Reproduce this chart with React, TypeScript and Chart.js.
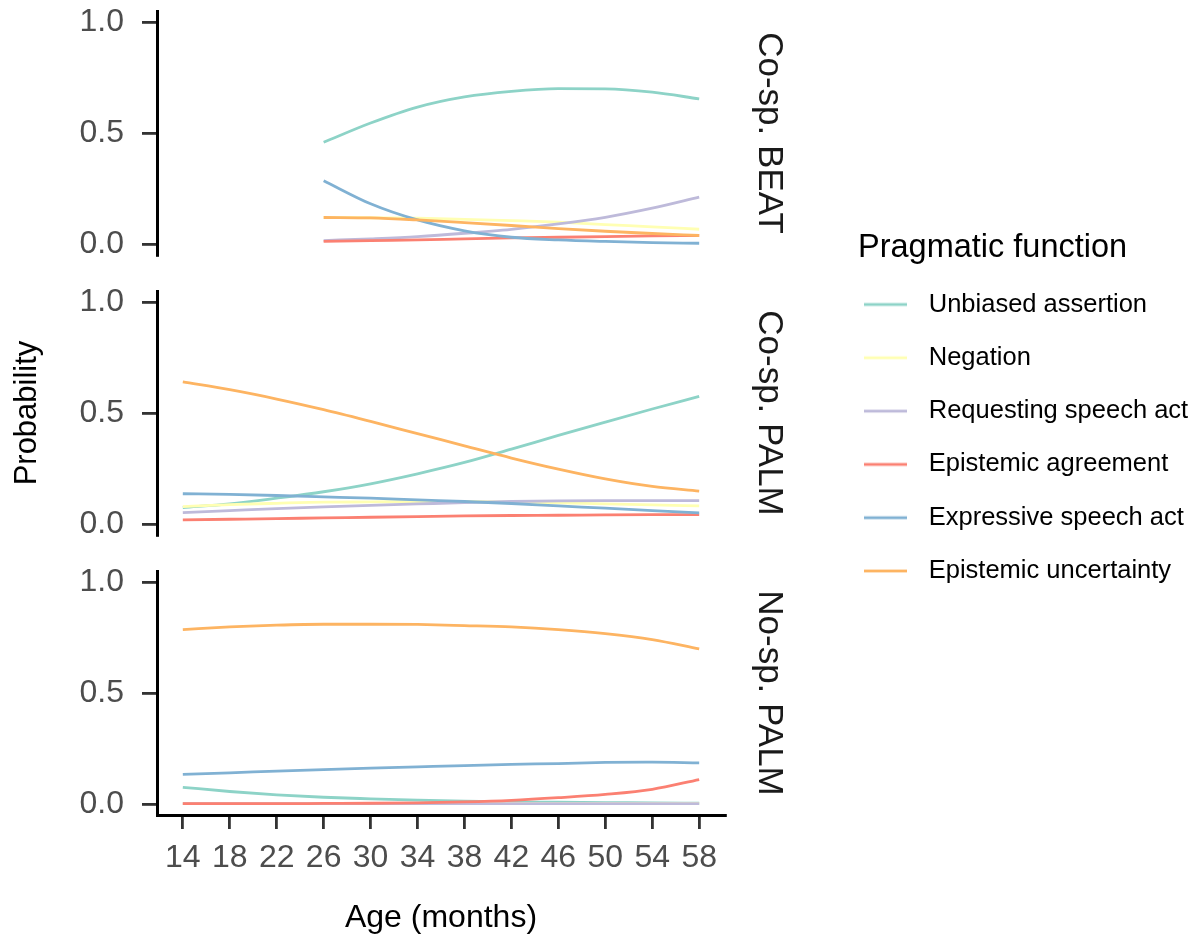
import { useEffect, useRef } from 'react';
import { Chart, registerables } from 'chart.js';

Chart.register(...registerables);

const FONT = '"Liberation Sans", Arial, Helvetica, sans-serif';

const AGE_TICKS = [14, 18, 22, 26, 30, 34, 38, 42, 46, 50, 54, 58];
const AGE = [14, 18, 22, 26, 30, 34, 38, 42, 46, 50, 54, 58];
const BEAT_AGE = [26, 30, 34, 38, 42, 46, 50, 54, 58];
const Y_TICKS = [0, 0.5, 1];

const SERIES = [
  'Unbiased assertion',
  'Negation',
  'Requesting speech act',
  'Epistemic agreement',
  'Expressive speech act',
  'Epistemic uncertainty',
];
const COLORS = ['#8DD3C7', '#FFFFB3', '#BEBADA', '#FB8072', '#80B1D3', '#FDB462'];
const PANELS = ['Co-sp. BEAT', 'Co-sp. PALM', 'No-sp. PALM'];

// Panel 1: Co-sp. BEAT (ages 26..58)
const BEAT_UNBIASED = [0.458, 0.545, 0.617, 0.663, 0.688, 0.7, 0.699, 0.684, 0.654];
const BEAT_NEGATION = [0.12, 0.118, 0.116, 0.111, 0.105, 0.098, 0.087, 0.077, 0.066];
const BEAT_REQUESTING = [0.015, 0.023, 0.033, 0.048, 0.066, 0.09, 0.12, 0.161, 0.211];
const BEAT_AGREEMENT = [0.011, 0.015, 0.018, 0.023, 0.027, 0.03, 0.033, 0.036, 0.038];
const BEAT_EXPRESSIVE = [0.285, 0.181, 0.108, 0.059, 0.03, 0.018, 0.011, 0.006, 0.003];
const BEAT_UNCERTAINTY = [0.119, 0.117, 0.108, 0.096, 0.083, 0.069, 0.057, 0.047, 0.038];

// Panel 2: Co-sp. PALM (ages 14..58)
const COPALM_UNBIASED = [0.074, 0.09, 0.116, 0.145, 0.181, 0.226, 0.277, 0.337, 0.399, 0.459, 0.518, 0.575];
const COPALM_NEGATION = [0.078, 0.087, 0.093, 0.098, 0.099, 0.101, 0.101, 0.098, 0.095, 0.09, 0.086, 0.081];
const COPALM_REQUESTING = [0.051, 0.06, 0.069, 0.077, 0.084, 0.09, 0.096, 0.101, 0.104, 0.105, 0.105, 0.105];
const COPALM_AGREEMENT = [0.018, 0.021, 0.024, 0.027, 0.03, 0.033, 0.036, 0.038, 0.039, 0.041, 0.042, 0.042];
const COPALM_EXPRESSIVE = [0.136, 0.133, 0.128, 0.122, 0.116, 0.108, 0.101, 0.092, 0.081, 0.071, 0.06, 0.05];
const COPALM_UNCERTAINTY = [0.64, 0.605, 0.563, 0.515, 0.462, 0.407, 0.352, 0.297, 0.247, 0.203, 0.169, 0.148];

// Panel 3: No-sp. PALM (ages 14..58)
const NOPALM_UNBIASED = [0.075, 0.056, 0.041, 0.03, 0.023, 0.017, 0.012, 0.009, 0.008, 0.006, 0.005, 0.003];
const NOPALM_NEGATION = [0.002, 0.002, 0.002, 0.002, 0.002, 0.002, 0.002, 0.002, 0.002, 0.002, 0.002, 0.002];
const NOPALM_REQUESTING = [0.001, 0.001, 0.001, 0.001, 0.001, 0.001, 0.001, 0.001, 0.001, 0.001, 0.001, 0.001];
const NOPALM_AGREEMENT = [0.001, 0.001, 0.001, 0.002, 0.003, 0.005, 0.009, 0.016, 0.028, 0.043, 0.066, 0.11];
const NOPALM_EXPRESSIVE = [0.133, 0.14, 0.148, 0.155, 0.161, 0.167, 0.173, 0.178, 0.182, 0.187, 0.188, 0.185];
const NOPALM_UNCERTAINTY = [0.786, 0.798, 0.806, 0.81, 0.81, 0.809, 0.804, 0.798, 0.786, 0.768, 0.741, 0.699];

const PANEL_DATA = [
  { ages: BEAT_AGE, series: [BEAT_UNBIASED, BEAT_NEGATION, BEAT_REQUESTING, BEAT_AGREEMENT, BEAT_EXPRESSIVE, BEAT_UNCERTAINTY] },
  { ages: AGE, series: [COPALM_UNBIASED, COPALM_NEGATION, COPALM_REQUESTING, COPALM_AGREEMENT, COPALM_EXPRESSIVE, COPALM_UNCERTAINTY] },
  { ages: AGE, series: [NOPALM_UNBIASED, NOPALM_NEGATION, NOPALM_REQUESTING, NOPALM_AGREEMENT, NOPALM_EXPRESSIVE, NOPALM_UNCERTAINTY] },
];

// layout constants (pixels)
const W = 1194;
const H = 940;
const LEFT_W = 157;
const RIGHT_W = 133;
const X_AXIS_H = 125;
const PANEL_W = 244;
const GAP_W = 36;
const LINE_W = 2.8;
const LEGEND_SPACE = 336;
const LEGEND_PAD = 6;
const LEGEND_FONT = 25.5;
const LEGEND_ROW = 53.3;
const LEGEND_BOX_W = 52;

function legendLine(color: string): HTMLCanvasElement {
  const c = document.createElement('canvas');
  c.width = LEGEND_BOX_W;
  c.height = 6;
  const ctx = c.getContext('2d')!;
  ctx.fillStyle = color;
  ctx.fillRect(0, 3 - LINE_W / 2, 43, LINE_W);
  return c;
}

export default function App() {
  const ref = useRef<HTMLCanvasElement | null>(null);

  useEffect(() => {
    document.body.style.margin = '0';
    const canvas = ref.current;
    if (!canvas) return;

    // legend width from its content, so that its left edge sits where wanted
    const m = canvas.getContext('2d')!;
    m.font = `${LEGEND_FONT}px ${FONT}`;
    const maxText = Math.max(...SERIES.map((s) => m.measureText(s).width));
    const contentW = LEGEND_PAD + LEGEND_BOX_W + LEGEND_FONT / 2 + maxText + 10;
    const legendW = Math.min(contentW, LEGEND_SPACE);
    const padRight = LEGEND_SPACE - legendW;

    const images = COLORS.map(legendLine);

    const datasets: any[] = [];
    PANEL_DATA.forEach((panel, p) => {
      panel.series.forEach((vals, s) => {
        datasets.push({
          label: SERIES[s],
          data: vals.map((v, i) => ({ x: panel.ages[i], y: v })),
          xAxisID: 'x',
          yAxisID: 'y' + (p + 1),
          borderColor: COLORS[s],
          backgroundColor: COLORS[s],
          borderWidth: LINE_W,
          pointRadius: 0,
          fill: false,
          cubicInterpolationMode: 'monotone',
          order: 5 - s,
        });
      });
    });

    const tickFont = { family: FONT, size: 32 };
    const axisGrid = { display: true, drawOnChartArea: false, drawTicks: true, tickLength: 15, color: '#333333', lineWidth: 2.8 };
    const axisBorder = { display: true, color: '#000000', width: 3 };

    const fitV = (w: number) => (s: any) => {
      s.width = w;
      s.paddingTop = 0;
      s.paddingBottom = 0;
    };

    const yPanel = (i: number, weight: number) => ({
      type: 'linear',
      position: 'left',
      stack: 'left',
      stackWeight: PANEL_W,
      weight,
      min: -0.05,
      max: 1.05,
      afterBuildTicks: (s: any) => { s.ticks = Y_TICKS.map((v) => ({ value: v })); },
      afterFit: fitV(LEFT_W),
      border: axisBorder,
      grid: axisGrid,
      ticks: { font: tickFont, color: '#4d4d4d', padding: 18, callback: (v: any) => Number(v).toFixed(1) },
      title: i === 1
        ? { display: true, text: 'Probability', color: '#000000', font: { family: FONT, size: 31 }, padding: { top: 9, bottom: 0 } }
        : { display: false },
    });

    const gap = (pos: string, weight: number) => ({
      type: 'linear',
      position: pos,
      stack: pos,
      stackWeight: GAP_W,
      weight,
      border: { display: false },
      grid: { display: false },
      ticks: { display: false },
      title: { display: false },
      afterFit: fitV(pos === 'left' ? LEFT_W : RIGHT_W),
    });

    const strip = (i: number, weight: number) => ({
      type: 'linear',
      position: 'right',
      stack: 'right',
      stackWeight: PANEL_W,
      weight,
      border: { display: false },
      grid: { display: false },
      ticks: { display: false },
      title: { display: true, text: PANELS[i], color: '#1a1a1a', font: { family: FONT, size: 35 }, padding: { top: 68, bottom: 0 } },
      afterFit: fitV(RIGHT_W),
    });

    const chart = new Chart(canvas, {
      type: 'line',
      data: { datasets },
      options: {
        animation: false,
        responsive: false,
        events: [],
        layout: { padding: { top: 11, right: padRight, bottom: 0, left: 0 } },
        scales: {
          x: {
            type: 'linear',
            position: 'bottom',
            min: 11.8,
            max: 60.2,
            afterBuildTicks: (s: any) => { s.ticks = AGE_TICKS.map((v) => ({ value: v })); },
            afterFit: (s: any) => {
              s.height = X_AXIS_H;
              s.paddingLeft = 0;
              s.paddingRight = 0;
            },
            border: axisBorder,
            grid: { ...axisGrid, tickLength: 14 },
            ticks: { font: tickFont, color: '#4d4d4d', padding: 10, autoSkip: false, maxRotation: 0, minRotation: 0, callback: (v: any) => String(v) },
            title: { display: true, text: 'Age (months)', color: '#000000', font: { family: FONT, size: 32 }, padding: { top: 0, bottom: 3 } },
          },
          y1: yPanel(0, 5),
          g1: gap('left', 4),
          y2: yPanel(1, 3),
          g2: gap('left', 2),
          y3: yPanel(2, 1),
          r1: strip(0, 1),
          rg1: gap('right', 2),
          r2: strip(1, 3),
          rg2: gap('right', 4),
          r3: strip(2, 5),
        } as any,
        plugins: {
          tooltip: { enabled: false },
          legend: {
            display: true,
            position: 'right',
            align: 'start',
            fullSize: true,
            maxWidth: legendW,
            title: {
              display: true,
              text: 'Pragmatic function',
              position: 'start',
              color: '#000000',
              font: { family: FONT, size: 32.5, lineHeight: 30 / 32.5 },
              padding: { top: 220.75, bottom: 24 },
            },
            labels: {
              usePointStyle: true,
              pointStyleWidth: LEGEND_BOX_W,
              padding: LEGEND_PAD,
              color: '#000000',
              font: { family: FONT, size: LEGEND_FONT, lineHeight: (LEGEND_ROW - LEGEND_PAD) / LEGEND_FONT },
              generateLabels: () => SERIES.map((name, s) => ({
                text: [name],
                fillStyle: COLORS[s],
                strokeStyle: COLORS[s],
                lineWidth: 0,
                pointStyle: images[s],
                hidden: false,
                datasetIndex: s,
              })),
            },
          } as any,
        },
      },
    });

    return () => chart.destroy();
  }, []);

  return (
    <div style={{ width: W, height: H, position: 'relative' }}>
      <canvas ref={ref} width={W} height={H} style={{ display: 'block', width: W, height: H }} />
    </div>
  );
}
